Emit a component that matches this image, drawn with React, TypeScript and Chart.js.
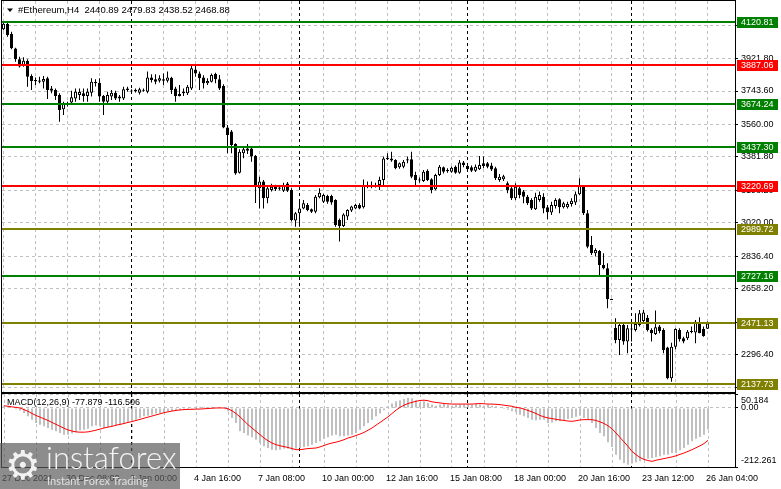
import React, { useEffect, useRef } from 'react';
import { Chart, registerables } from 'chart.js';

Chart.register(...registerables);

// ---------------- DATA ----------------
const symbolTitle = '#Ethereum,H4  2440.89 2479.83 2438.52 2468.88';
const macdTitle = 'MACD(12,26,9) -77.879 -116.506';

const opens = [
  4082, 4111, 4058, 3977, 3917, 3886, 3910, 3826, 3804, 3795,
  3795, 3813, 3758, 3749, 3721, 3643, 3672, 3680, 3703, 3722,
  3731, 3716, 3734, 3786, 3789, 3716, 3685, 3713, 3734, 3713,
  3703, 3749, 3745, 3749, 3734, 3747, 3740, 3818, 3808, 3800,
  3808, 3800, 3816, 3758, 3727, 3740, 3731, 3758, 3862, 3840,
  3818, 3786, 3795, 3837, 3808, 3771, 3544, 3521, 3453, 3296,
  3402, 3429, 3429, 3387, 3210, 3247, 3155, 3201, 3219, 3212,
  3197, 3237, 3201, 3033, 3073, 3100, 3119, 3095, 3082, 3161,
  3137, 3168, 3168, 3146, 3036, 3004, 3055, 3088, 3100, 3119,
  3106, 3225, 3222, 3224, 3228, 3256, 3369, 3374, 3365, 3325,
  3329, 3367, 3369, 3283, 3258, 3250, 3307, 3260, 3205, 3283,
  3325, 3310, 3301, 3329, 3296, 3351, 3333, 3325, 3307, 3314,
  3347, 3347, 3335, 3320, 3256, 3260, 3238, 3210, 3155, 3210,
  3192, 3164, 3146, 3095, 3146, 3164, 3106, 3077, 3113, 3150,
  3106, 3106, 3124, 3132, 3177, 3223, 3073, 2899, 2854, 2867,
  2790, 2772, 2602, 2446, 2379, 2461, 2370, 2440, 2434, 2461,
  2483, 2501, 2434, 2412, 2452, 2434, 2337, 2169, 2342, 2434,
  2388, 2388, 2424, 2419, 2470, 2439, 2440.89,
];
const highs = [
  4124, 4118, 4069, 3981, 3932, 3928, 3917, 3835, 3818, 3822,
  3826, 3822, 3771, 3758, 3731, 3685, 3685, 3745, 3758, 3758,
  3758, 3758, 3813, 3808, 3813, 3722, 3740, 3749, 3745, 3722,
  3767, 3767, 3753, 3758, 3762, 3758, 3850, 3835, 3835, 3830,
  3840, 3850, 3822, 3767, 3776, 3758, 3776, 3880, 3886, 3850,
  3830, 3813, 3840, 3844, 3831, 3780, 3557, 3530, 3457, 3424,
  3442, 3453, 3440, 3393, 3274, 3256, 3228, 3235, 3230, 3225,
  3240, 3245, 3210, 3080, 3146, 3146, 3130, 3100, 3173, 3210,
  3180, 3175, 3175, 3150, 3045, 3073, 3095, 3115, 3125, 3128,
  3259, 3247, 3247, 3240, 3274, 3384, 3402, 3411, 3370, 3352,
  3365, 3384, 3411, 3301, 3270, 3310, 3315, 3265, 3290, 3338,
  3330, 3320, 3330, 3335, 3365, 3360, 3347, 3335, 3340, 3387,
  3384, 3355, 3350, 3329, 3289, 3285, 3247, 3219, 3238, 3228,
  3201, 3174, 3155, 3186, 3192, 3183, 3119, 3137, 3155, 3155,
  3137, 3137, 3155, 3192, 3265, 3228, 3091, 2949, 2881, 2872,
  2854, 2799, 2605, 2498, 2470, 2470, 2461, 2466, 2525, 2543,
  2543, 2516, 2443, 2540, 2461, 2443, 2342, 2364, 2443, 2443,
  2397, 2434, 2452, 2488, 2503, 2452, 2479.83,
];
const lows = [
  4076, 4041, 3972, 3904, 3873, 3877, 3767, 3749, 3776, 3786,
  3758, 3700, 3731, 3694, 3575, 3612, 3658, 3667, 3685, 3694,
  3685, 3685, 3713, 3768, 3685, 3612, 3667, 3694, 3694, 3685,
  3694, 3740, 3731, 3735, 3725, 3740, 3731, 3790, 3780, 3790,
  3776, 3790, 3727, 3685, 3713, 3716, 3722, 3749, 3822, 3749,
  3758, 3776, 3790, 3786, 3749, 3540, 3402, 3402, 3285, 3292,
  3375, 3398, 3356, 3130, 3100, 3100, 3128, 3192, 3195, 3200,
  3190, 3190, 3028, 3000, 3000, 3095, 3085, 3075, 3073, 3155,
  3130, 3125, 3120, 3000, 2918, 2998, 3036, 3080, 3095, 3095,
  3100, 3210, 3210, 3215, 3201, 3228, 3365, 3356, 3315, 3318,
  3320, 3347, 3265, 3228, 3240, 3245, 3250, 3183, 3200, 3278,
  3292, 3295, 3295, 3290, 3290, 3325, 3301, 3300, 3300, 3310,
  3320, 3320, 3305, 3256, 3246, 3250, 3183, 3146, 3146, 3155,
  3128, 3119, 3091, 3091, 3137, 3073, 3040, 3064, 3100, 3073,
  3100, 3100, 3110, 3119, 3174, 3064, 2881, 2845, 2836, 2735,
  2766, 2552, 2598, 2361, 2297, 2352, 2306, 2370, 2425, 2452,
  2470, 2425, 2370, 2406, 2415, 2306, 2163, 2150, 2328, 2370,
  2361, 2379, 2415, 2361, 2415, 2397, 2438.52,
];
const closes = [
  4112, 4051, 3978, 3917, 3878, 3910, 3822, 3798, 3797, 3800,
  3809, 3749, 3745, 3716, 3639, 3672, 3667, 3709, 3740, 3738,
  3716, 3740, 3795, 3795, 3713, 3685, 3722, 3734, 3703, 3703,
  3753, 3758, 3742, 3745, 3753, 3749, 3818, 3804, 3795, 3813,
  3800, 3818, 3749, 3716, 3716, 3731, 3767, 3868, 3840, 3813,
  3786, 3799, 3831, 3808, 3758, 3544, 3502, 3448, 3292, 3411,
  3424, 3416, 3384, 3222, 3247, 3155, 3210, 3219, 3205, 3210,
  3228, 3197, 3036, 3073, 3100, 3128, 3091, 3082, 3164, 3186,
  3173, 3137, 3132, 3009, 3004, 3067, 3091, 3110, 3119, 3100,
  3228, 3221, 3224, 3221, 3256, 3374, 3378, 3362, 3320, 3347,
  3356, 3365, 3274, 3256, 3254, 3301, 3256, 3201, 3283, 3329,
  3301, 3303, 3323, 3296, 3351, 3338, 3314, 3307, 3329, 3338,
  3333, 3329, 3313, 3265, 3274, 3276, 3201, 3155, 3219, 3174,
  3164, 3128, 3100, 3164, 3174, 3100, 3079, 3119, 3146, 3106,
  3128, 3124, 3142, 3177, 3223, 3073, 2890, 2854, 2872, 2790,
  2772, 2602, 2600, 2379, 2461, 2370, 2443, 2438, 2466, 2525,
  2529, 2434, 2415, 2448, 2428, 2324, 2169, 2342, 2439, 2383,
  2370, 2424, 2426, 2479, 2415, 2401, 2468.88,
];

const macdMain = [
  8, 5, 0, -5, -9, -18, -30, -42, -54, -60,
  -66, -72, -78, -84, -90, -96, -96, -92, -87, -80,
  -78, -75, -66, -63, -66, -72, -69, -66, -63, -62,
  -56, -51, -48, -42, -36, -30, -28, -24, -20, -18,
  -16, -13, -11, -8, -8, -6, -6, -4, -1, 4,
  4, 2, 4, 2, 1, 0, -12, -36, -54, -84,
  -90, -99, -105, -114, -126, -138, -144, -150, -152, -150,
  -147, -147, -150, -147, -144, -140, -138, -132, -126, -120,
  -111, -105, -99, -96, -102, -102, -99, -96, -90, -78,
  -66, -54, -42, -30, -20, -8, 6, 16, 24, 28,
  32, 36, 35, 28, 20, 24, 18, 12, 8, 12,
  16, 12, 8, 11, 12, 12, 14, 12, 14, 12,
  8, 12, 8, 6, 0, -4, -6, -12, -16, -24,
  -30, -36, -42, -44, -42, -42, -54, -52, -48, -48,
  -44, -40, -36, -32, -28, -36, -42, -54, -72, -90,
  -102, -123, -140, -168, -186, -198, -204, -200, -195, -192,
  -186, -183, -180, -176, -174, -168, -168, -162, -162, -152,
  -144, -132, -120, -111, -104, -96, -77.879,
];
const macdSignal = [
  8, 6, 4, 2, 0, -6, -12, -20, -27, -33,
  -39, -45, -52, -59, -66, -73, -79, -83, -86, -87,
  -87, -86, -83, -80, -76, -72, -69, -66, -62, -59,
  -56, -52, -49, -45, -41, -37, -33, -29, -25, -21,
  -17, -14, -11, -9, -7, -6, -5, -5, -4, -4,
  -3, -2, -1, 0, 0, 0, -3, -10, -20, -32,
  -46, -60, -72, -84, -96, -108, -118, -126, -132, -136,
  -139, -142, -146, -150, -150, -148, -146, -145, -144, -140,
  -135, -130, -126, -123, -119, -114, -108, -104, -99, -94,
  -88, -80, -72, -62, -52, -42, -32, -20, -8, 2,
  10, 16, 20, 24, 27, 28, 26, 22, 20, 18,
  16, 15, 14, 14, 14, 14, 14, 14, 15, 16,
  15, 14, 14, 13, 12, 10, 8, 6, 2, 0,
  -4, -9, -14, -20, -27, -32, -36, -38, -41, -43,
  -45, -47, -48, -46, -43, -42, -42, -42, -45, -50,
  -56, -64, -75, -90, -106, -122, -138, -156, -168, -178,
  -185, -189, -192, -188, -185, -182, -179, -176, -172, -167,
  -162, -156, -150, -143, -136, -128, -116.506,
];

const timeLabels = [
  '27 Dec 2021', '30 Dec 08:00', '2 Jan 00:00', '4 Jan 16:00', '7 Jan 08:00', '10 Jan 00:00',
  '12 Jan 16:00', '15 Jan 08:00', '18 Jan 00:00', '20 Jan 16:00', '23 Jan 12:00', '26 Jan 04:00',
];
const labelEvery = 16;
const gridEvery = 8;
const separatorBars = [32, 74, 116, 157];

const priceTicks = [4100, 3921.8, 3743.6, 3560, 3381.8, 3198.2, 3020, 2836.4, 2658.2, 2474.6, 2296.4, 2118.2];
const levelValues = [4120.81, 3887.06, 3674.24, 3437.3, 3220.69, 2989.72, 2727.16, 2471.13, 2137.73];
const levelKinds = ['g', 'r', 'g', 'g', 'r', 'o', 'g', 'o', 'o'];
const macdTicks = [50.184, 0, -212.261];

// ---------------- STYLE ----------------
const FONT = '"Liberation Sans", Arial, sans-serif';
const GRID = '#c0c0c0';
const LEVEL_COLORS: Record<string, string> = { g: '#008000', r: '#ff0000', o: '#808000' };
const W = 781;
const MAIN_H = 393;
const MACD_H = 96;
const AXIS_W = 46;
const PRICE_MIN = 2093.5;
const PRICE_MAX = 4237.0;
const MACD_MIN = -212.261;
const MACD_MAX = 50.184;

Chart.defaults.font.family = FONT;
Chart.defaults.font.size = 9;
Chart.defaults.color = '#000';

const crisp = (x: number) => Math.ceil(x - 1) + 0.5;

function gridTicks(scale: any) {
  const t: any[] = [];
  for (let i = 0; i < opens.length; i += gridEvery) t.push({ value: i });
  scale.ticks = t;
}

function noPad(s: any) {
  s.paddingTop = 0;
  s.paddingBottom = 0;
  s.paddingLeft = 0;
  s.paddingRight = 0;
}

function drawSeparators(chart: any) {
  const { ctx, chartArea: a, scales } = chart;
  ctx.save();
  ctx.beginPath();
  ctx.rect(a.left, a.top, a.right - a.left, a.bottom - a.top);
  ctx.clip();
  ctx.strokeStyle = '#000';
  ctx.lineWidth = 1;
  ctx.setLineDash([3, 3]);
  separatorBars.forEach((b) => {
    const px = crisp(scales.x.getPixelForValue(b));
    ctx.beginPath();
    ctx.moveTo(px, a.top);
    ctx.lineTo(px, a.bottom);
    ctx.stroke();
  });
  ctx.restore();
}

function drawFrame(chart: any) {
  const { ctx, chartArea: a } = chart;
  ctx.save();
  ctx.strokeStyle = '#000';
  ctx.lineWidth = 1;
  ctx.setLineDash([]);
  ctx.strokeRect(a.left - 0.5, a.top - 0.5, a.right - a.left + 1, a.bottom - a.top + 1);
  ctx.restore();
}

const mainPlugin = {
  id: 'mainDecor',
  beforeDatasetsDraw(chart: any) {
    drawSeparators(chart);
  },
  afterDatasetsDraw(chart: any) {
    const { ctx, chartArea: a, scales } = chart;
    ctx.save();
    ctx.beginPath();
    ctx.rect(a.left, a.top, a.right - a.left, a.bottom - a.top);
    ctx.clip();
    levelValues.forEach((v, k) => {
      const py = Math.round(scales.y.getPixelForValue(v));
      ctx.strokeStyle = LEVEL_COLORS[levelKinds[k]];
      ctx.lineWidth = 2;
      ctx.beginPath();
      ctx.moveTo(a.left, py);
      ctx.lineTo(a.right, py);
      ctx.stroke();
    });
    ctx.restore();
  },
  afterDraw(chart: any) {
    const { ctx, chartArea: a, scales } = chart;
    drawFrame(chart);
    ctx.save();
    ctx.font = `9px ${FONT}`;
    ctx.textBaseline = 'middle';
    ctx.textAlign = 'left';
    levelValues.forEach((v, k) => {
      const py = Math.round(scales.y.getPixelForValue(v));
      ctx.fillStyle = LEVEL_COLORS[levelKinds[k]];
      ctx.fillRect(a.right + 2, py - 5, 41, 11);
      ctx.fillStyle = '#ffffff';
      ctx.fillText(v.toFixed(2), a.right + 6, py + 0.5);
    });
    // header
    ctx.fillStyle = '#000';
    ctx.beginPath();
    ctx.moveTo(7, 8.5);
    ctx.lineTo(13, 8.5);
    ctx.lineTo(10, 12);
    ctx.closePath();
    ctx.fill();
    ctx.font = `9.5px ${FONT}`;
    ctx.fillText(symbolTitle, 18, 10.5);
    ctx.restore();
  },
};

const macdPlugin = {
  id: 'macdDecor',
  beforeDatasetsDraw(chart: any) {
    drawSeparators(chart);
  },
  afterDraw(chart: any) {
    const { ctx, chartArea: a, scales } = chart;
    drawFrame(chart);
    ctx.save();
    ctx.font = `9px ${FONT}`;
    ctx.textBaseline = 'middle';
    ctx.textAlign = 'left';
    ctx.fillStyle = '#000';
    macdTicks.forEach((v) => {
      const py = scales.y.getPixelForValue(v);
      const ly = Math.min(Math.max(py, a.top + 6.5), a.bottom - 6);
      const txt = v === 0 ? '0.00' : String(v);
      ctx.fillText(txt, a.right + 6, ly);
    });
    ctx.fillText(macdTitle, 7, 10);
    ctx.restore();
  },
};

function mainConfig(): any {
  const idx = opens.map((_, i) => i);
  const bodyData = idx.map((i) => {
    let lo = Math.min(opens[i], closes[i]);
    let hi = Math.max(opens[i], closes[i]);
    if (hi - lo < 6) {
      const m = (hi + lo) / 2;
      lo = m - 3;
      hi = m + 3;
    }
    return { x: i, y: [lo, hi] };
  });
  const bodyFill = idx.map((i) =>
    closes[i] > opens[i] && closes[i] - opens[i] >= 6 ? '#ffffff' : '#000000'
  );
  const wickData = idx.map((i) => ({ x: i, y: [lows[i], highs[i]] }));
  return {
    type: 'bar',
    data: {
      datasets: [
        {
          label: 'body',
          data: bodyData,
          backgroundColor: bodyFill,
          borderColor: '#000',
          borderWidth: 1,
          borderSkipped: false,
          barThickness: 3,
          grouped: false,
          inflateAmount: 0,
          order: 0,
        },
        {
          label: 'wick',
          data: wickData,
          backgroundColor: '#000',
          borderWidth: 0,
          barThickness: 1,
          grouped: false,
          inflateAmount: 0,
          order: 1,
        },
      ],
    },
    options: {
      responsive: false,
      animation: false,
      devicePixelRatio: 1,
      events: [],
      layout: { padding: { left: 2, top: 1, right: 0, bottom: 1 } },
      plugins: { legend: { display: false }, tooltip: { enabled: false } },
      scales: {
        x: {
          type: 'linear',
          min: -0.375,
          max: 182.875,
          offset: false,
          afterBuildTicks: gridTicks,
          afterFit: (s: any) => {
            s.height = 0;
            noPad(s);
          },
          ticks: { display: false },
          grid: { color: GRID, drawTicks: false, offset: false },
          border: { display: false, dash: [3, 3] },
        },
        y: {
          type: 'linear',
          position: 'right',
          min: PRICE_MIN,
          max: PRICE_MAX,
          afterBuildTicks: (s: any) => {
            s.ticks = priceTicks.map((v) => ({ value: v }));
          },
          afterFit: (s: any) => {
            s.width = AXIS_W;
            noPad(s);
          },
          ticks: {
            callback: (v: any) => Number(v).toFixed(2),
            padding: 3,
            color: '#000',
            autoSkip: false,
            font: { size: 9, family: FONT },
          },
          grid: { color: GRID, tickColor: '#000', tickLength: 3, tickBorderDash: [] },
          border: { display: false, dash: [3, 3] },
        },
      },
    },
    plugins: [mainPlugin],
  };
}

function macdConfig(): any {
  const histData = macdMain.map((v, i) => ({ x: i, y: v }));
  const sigData = macdSignal.map((v, i) => ({ x: i, y: v }));
  return {
    type: 'bar',
    data: {
      datasets: [
        {
          type: 'line',
          label: 'signal',
          data: sigData,
          borderColor: '#ff0000',
          borderWidth: 1,
          pointRadius: 0,
          tension: 0,
          fill: false,
          order: 0,
        },
        {
          type: 'bar',
          label: 'macd',
          data: histData,
          backgroundColor: '#c0c0c0',
          borderWidth: 0,
          barThickness: 2,
          grouped: false,
          inflateAmount: 0,
          order: 1,
        },
      ],
    },
    options: {
      responsive: false,
      animation: false,
      devicePixelRatio: 1,
      events: [],
      layout: { padding: { left: 2, top: 1, right: 0, bottom: 0 } },
      plugins: { legend: { display: false }, tooltip: { enabled: false } },
      scales: {
        x: {
          type: 'linear',
          min: -0.5,
          max: 182.75,
          offset: false,
          afterBuildTicks: gridTicks,
          afterFit: (s: any) => {
            s.height = 22;
            noPad(s);
          },
          ticks: {
            callback: (v: any) => (v % labelEvery === 0 ? timeLabels[v / labelEvery] : ''),
            align: 'start',
            autoSkip: false,
            maxRotation: 0,
            minRotation: 0,
            padding: 6,
            labelOffset: -2,
            color: '#000',
            font: { size: 9, family: FONT },
          },
          grid: { color: GRID, drawTicks: false, offset: false },
          border: { display: false, dash: [3, 3] },
        },
        y: {
          type: 'linear',
          position: 'right',
          min: MACD_MIN,
          max: MACD_MAX,
          afterBuildTicks: (s: any) => {
            s.ticks = macdTicks.map((v) => ({ value: v }));
          },
          afterFit: (s: any) => {
            s.width = AXIS_W;
            noPad(s);
          },
          ticks: { callback: () => '', padding: 3 },
          grid: { color: GRID, tickColor: '#000', tickLength: 3, tickBorderDash: [] },
          border: { display: false, dash: [3, 3] },
        },
      },
    },
    plugins: [macdPlugin],
  };
}

function Watermark() {
  return (
    <div
      style={{
        position: 'absolute',
        left: 0,
        top: 443,
        width: 180,
        height: 46,
        background: 'rgba(92,92,92,0.7)',
        overflow: 'hidden',
        color: '#ffffff',
        fontFamily: 'Lato, "Open Sans", sans-serif',
      }}
    >
      <div
        style={{
          position: 'absolute',
          left: 5,
          top: 0,
          fontSize: 40,
          lineHeight: '44px',
          fontFamily: '"DejaVu Sans", sans-serif',
          color: '#f2f2f2',
        }}
      >
        ⚙
      </div>
      <div
        style={{
          position: 'absolute',
          left: 46,
          top: -3,
          fontSize: 31,
          lineHeight: '34px',
          fontWeight: 300,
          color: '#f5f5f5',
        }}
      >
        instaforex
      </div>
      <div
        style={{
          position: 'absolute',
          left: 47,
          top: 31,
          fontSize: 11,
          lineHeight: '13px',
          color: '#e0e0e0',
        }}
      >
        Instant Forex Trading
      </div>
    </div>
  );
}

export default function App() {
  const mainRef = useRef<HTMLCanvasElement | null>(null);
  const macdRef = useRef<HTMLCanvasElement | null>(null);

  useEffect(() => {
    const c1 = new Chart(mainRef.current as HTMLCanvasElement, mainConfig());
    const c2 = new Chart(macdRef.current as HTMLCanvasElement, macdConfig());
    return () => {
      c1.destroy();
      c2.destroy();
    };
  }, []);

  return (
    <div
      style={{
        position: 'fixed',
        left: 0,
        top: 0,
        width: W,
        height: 489,
        background: '#ffffff',
        overflow: 'hidden',
      }}
    >
      <canvas
        ref={mainRef}
        width={W}
        height={MAIN_H}
        style={{ position: 'absolute', left: 0, top: 0, width: W, height: MAIN_H }}
      />
      <canvas
        ref={macdRef}
        width={W}
        height={MACD_H}
        style={{ position: 'absolute', left: 0, top: MAIN_H, width: W, height: MACD_H }}
      />
      <Watermark />
    </div>
  );
}
